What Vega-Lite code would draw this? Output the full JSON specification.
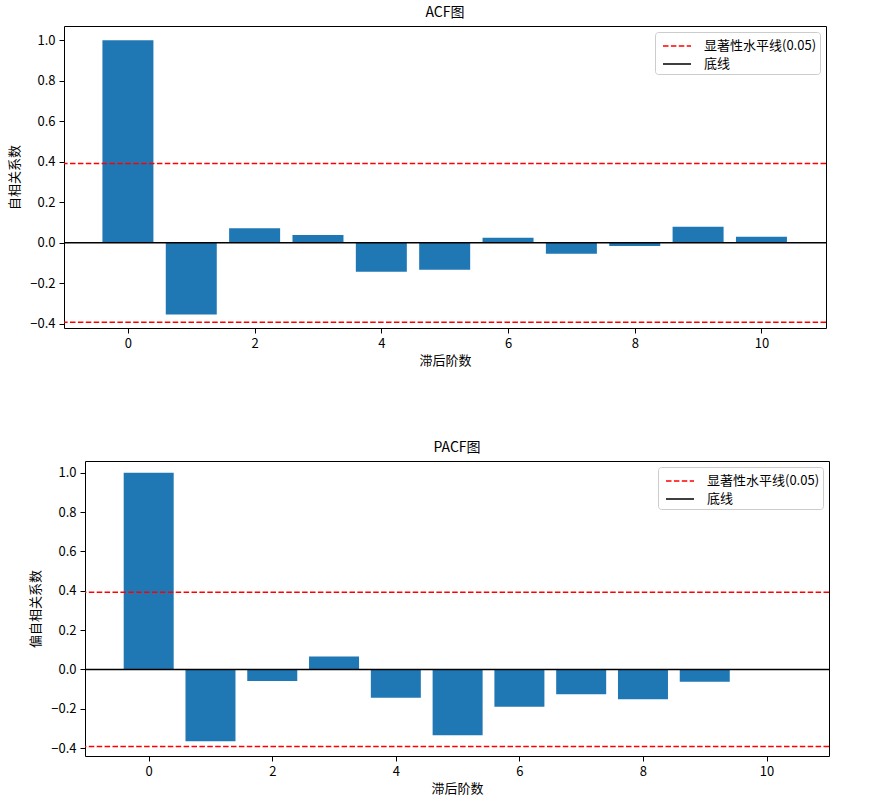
{
  "$schema": "https://vega.github.io/schema/vega-lite/v6.json",
  "padding": {"left": 8, "top": 5, "right": 5, "bottom": 5},
  "background": "white",
  "config": {
    "font": "Noto Sans CJK SC",
    "view": {"stroke": "black", "strokeWidth": 1},
    "axis": {
      "domain": false, "grid": false, "tickColor": "black", "tickSize": 5, "tickWidth": 1,
      "labelFontSize": 13, "labelColor": "black", "labelPadding": 4,
      "titleFontSize": 13, "titleFontWeight": "normal", "titleColor": "black",
      "labelFont": "Noto Sans CJK SC", "titleFont": "Noto Sans CJK SC"
    },
    "title": {"fontSize": 14, "fontWeight": "normal", "color": "black", "offset": 6, "font": "Noto Sans CJK SC"},
    "legend": {
      "orient": "top-right", "offset": 6, "fillColor": "white", "strokeColor": "#cccccc",
      "cornerRadius": 3, "padding": 3, "labelFontSize": 13, "labelColor": "black",
      "symbolType": "M-1.4,0H1.4", "symbolSize": 400, "symbolStrokeWidth": 1.5, "symbolOffset": 8,
      "rowPadding": 0, "labelOffset": 16, "labelFont": "Noto Sans CJK SC"
    }
  },
  "datasets": {
    "acf": [
      {"lag": 0, "value": 1.0}, {"lag": 1, "value": -0.353}, {"lag": 2, "value": 0.072},
      {"lag": 3, "value": 0.039}, {"lag": 4, "value": -0.143}, {"lag": 5, "value": -0.133},
      {"lag": 6, "value": 0.025}, {"lag": 7, "value": -0.054}, {"lag": 8, "value": -0.015},
      {"lag": 9, "value": 0.079}, {"lag": 10, "value": 0.030}
    ],
    "pacf": [
      {"lag": 0, "value": 1.0}, {"lag": 1, "value": -0.365}, {"lag": 2, "value": -0.059},
      {"lag": 3, "value": 0.066}, {"lag": 4, "value": -0.144}, {"lag": 5, "value": -0.335},
      {"lag": 6, "value": -0.190}, {"lag": 7, "value": -0.126}, {"lag": 8, "value": -0.151},
      {"lag": 9, "value": -0.063}
    ],
    "lines": [
      {"y": 0.392, "type": "显著性水平线(0.05)"},
      {"y": -0.392, "type": "显著性水平线(0.05)"},
      {"y": 0, "type": "底线"}
    ]
  },
  "vconcat": [
    {
      "width": 762, "height": 302,
      "title": "ACF图",
      "layer": [
        {
          "data": {"name": "acf"},
          "mark": {"type": "bar", "width": 51, "color": "#1f77b4"},
          "encoding": {
            "x": {"field": "lag", "type": "quantitative", "scale": {"domain": [-0.93, 10.94], "nice": false, "zero": false},
                  "axis": {"values": [0, 2, 4, 6, 8, 10], "title": "滞后阶数", "titlePadding": 4}},
            "y": {"field": "value", "type": "quantitative", "scale": {"domain": [-0.42, 1.07], "nice": false},
                  "axis": {"values": [-0.4, -0.2, 0, 0.2, 0.4, 0.6, 0.8, 1.0], "format": ".1f", "title": "自相关系数", "titlePadding": 8}}
          }
        },
        {
          "data": {"name": "lines"},
          "mark": {"type": "rule", "strokeWidth": 1.5},
          "encoding": {
            "y": {"field": "y", "type": "quantitative"},
            "color": {"field": "type", "type": "nominal", "title": null,
                      "scale": {"domain": ["显著性水平线(0.05)", "底线"], "range": ["#ff0000", "#000000"]}},
            "strokeDash": {"field": "type", "type": "nominal", "title": null,
                      "scale": {"domain": ["显著性水平线(0.05)", "底线"], "range": [[5.5, 2.4], [1, 0]]}}
          }
        }
      ]
    },
    {
      "spacing": -36,
      "resolve": {"scale": {"color": "independent", "strokeDash": "independent"}},
      "hconcat": [
        {
          "width": 1, "height": 1,
          "view": {"stroke": null},
          "data": {"values": []},
          "mark": "point",
          "encoding": {}
        },
        {
          "width": 744, "height": 295,
          "title": "PACF图",
          "layer": [
            {
              "data": {"name": "pacf"},
              "mark": {"type": "bar", "width": 50, "color": "#1f77b4"},
              "encoding": {
                "x": {"field": "lag", "type": "quantitative", "scale": {"domain": [-0.95, 10.93], "nice": false, "zero": false},
                      "axis": {"values": [0, 2, 4, 6, 8, 10], "title": "滞后阶数", "titlePadding": 4}},
                "y": {"field": "value", "type": "quantitative", "scale": {"domain": [-0.44, 1.06], "nice": false},
                      "axis": {"values": [-0.4, -0.2, 0, 0.2, 0.4, 0.6, 0.8, 1.0], "format": ".1f", "title": "偏自相关系数", "titlePadding": 8}}
              }
            },
            {
              "data": {"name": "lines"},
              "mark": {"type": "rule", "strokeWidth": 1.5},
              "encoding": {
                "y": {"field": "y", "type": "quantitative"},
                "color": {"field": "type", "type": "nominal", "title": null,
                          "scale": {"domain": ["显著性水平线(0.05)", "底线"], "range": ["#ff0000", "#000000"]}},
                "strokeDash": {"field": "type", "type": "nominal", "title": null,
                          "scale": {"domain": ["显著性水平线(0.05)", "底线"], "range": [[5.5, 2.4], [1, 0]]}}
              }
            }
          ]
        }
      ]
    }
  ],
  "spacing": 72,
  "resolve": {"scale": {"color": "independent", "strokeDash": "independent"}}
}
